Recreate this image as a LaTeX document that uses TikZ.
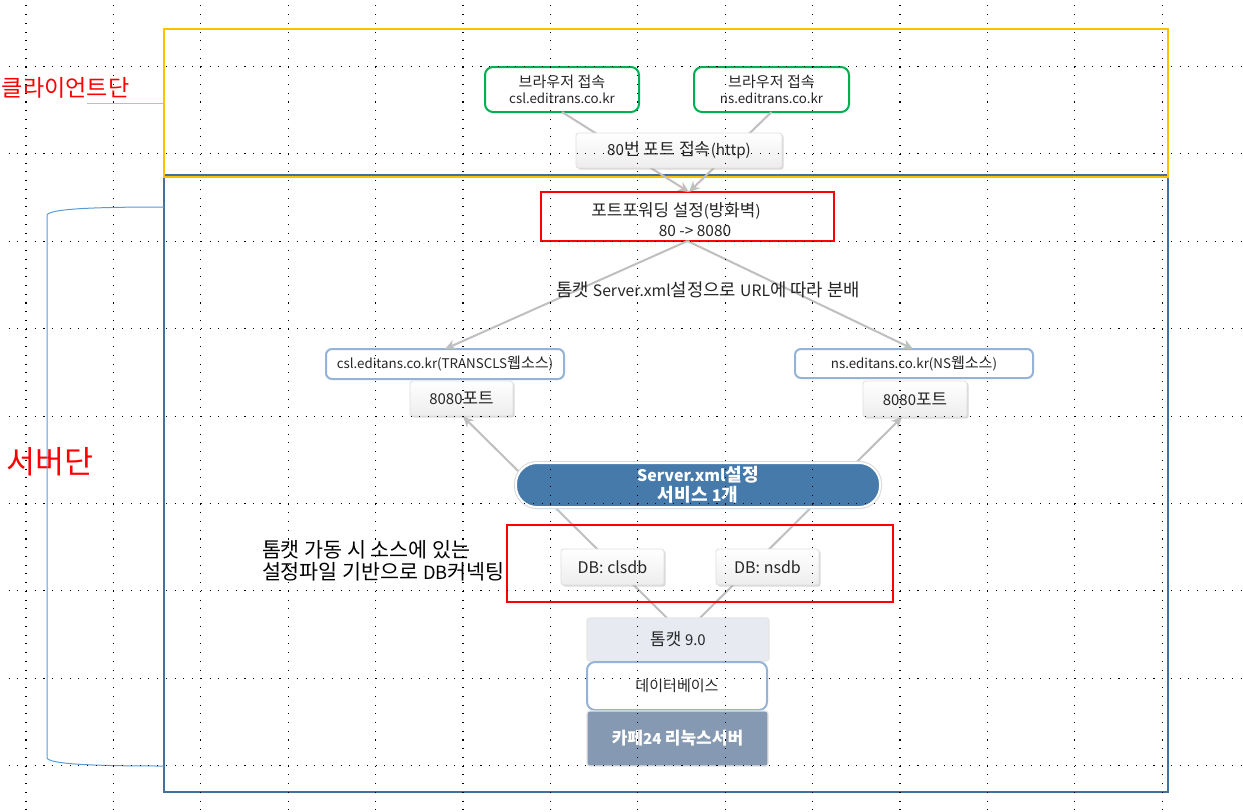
\documentclass[tikz,border=0pt]{standalone}
\usepackage{fontspec}
\setmainfont{Noto Sans CJK KR}
\newfontfamily\hangulfont{Noto Sans CJK KR}[Scale=1.13]
\newfontfamily\latinfont{Noto Sans CJK KR}
\XeTeXinterchartokenstate=1
\newXeTeXintercharclass\HangulCls
\newcount\hgc
\hgc="AC00
\loop\ifnum\hgc<"D7A4 \XeTeXcharclass\hgc=\HangulCls \advance\hgc by 1 \repeat
\XeTeXinterchartoks 0 \HangulCls = {\hangulfont}
\XeTeXinterchartoks 4095 \HangulCls = {\hangulfont}
\XeTeXinterchartoks \HangulCls 0 = {\latinfont}
\XeTeXinterchartoks 4095 0 = {\latinfont}
\usetikzlibrary{arrows.meta,calc,shadows}
\definecolor{ygold}{RGB}{255,192,0}
\definecolor{sblue}{RGB}{65,113,156}
\definecolor{ggreen}{RGB}{0,176,80}
\definecolor{cgray}{RGB}{191,191,191}
\definecolor{capblue}{RGB}{70,122,170}
\definecolor{cafe}{RGB}{134,153,178}
\definecolor{tomc}{RGB}{231,235,241}
\definecolor{webb}{RGB}{149,179,215}
\definecolor{brk}{RGB}{91,155,213}
\newcommand\pxl[1]{#1*0.75pt}
\newcommand\fs[1]{\fontsize{#1}{14}\selectfont}
\begin{document}
\begin{tikzpicture}[x=0.75pt,y=-0.75pt,
  every node/.style={inner sep=0pt, outer sep=0pt, font=\fontsize{10}{12}\selectfont, align=center, text=black!85},
  conn/.style={draw=cgray, line width=1.5pt},
  arr/.style={conn, -{Stealth[length=8pt,width=7.5pt]}},
  greenbox/.style={draw=ggreen, line width=1.5pt, rounded corners=6pt, fill=white},
  webbox/.style={draw=webb, line width=1.5pt, rounded corners=4.5pt, fill=white},
  softbox/.style={draw=gray!25, line width=0.6pt, rounded corners=2pt, top color=white, bottom color=gray!14,
     drop shadow={shadow xshift=1.2pt, shadow yshift=-1.2pt, opacity=0.3, fill=gray}},
  redbox/.style={draw=red, line width=1.5pt, fill=white},
  griddot/.style={draw=black, line width=0.8pt, dash pattern=on 0.8pt off 5.755pt},
]
\useasboundingbox (0,0) rectangle (1243,811);
\fill[white] (0,0) rectangle (1243,811);

% containers
\node[draw=sblue, line width=1.5pt, minimum width=\pxl{1004}, minimum height=\pxl{617}] (server) at (666,483.5) {};
\node[draw=ygold, line width=1.5pt, minimum width=\pxl{1004}, minimum height=\pxl{148}] (client) at (666,103) {};

% side labels
\node[anchor=west, text=red, font=\fontsize{15.3}{18}\selectfont] (clientlbl) at (2,88) {클라이언트단};
\coordinate (clu) at (87,103);
\draw[ygold, line width=0.75pt] (clu) -- (client.west |- clu);
\node[anchor=west, text=red, font=\fontsize{20.9}{24}\selectfont] (serverlbl) at (7,462) {서버단};
\coordinate (bt) at (164,207);
\coordinate (bb) at (164,766);
\draw[brk, line width=0.75pt] (bt) .. controls (90,207) and (50,209) .. (47,215) -- (47,758) .. controls (50,764) and (90,766) .. (bb);

% boxes that connectors attach to
\node[greenbox, minimum width=\pxl{154}, minimum height=\pxl{45}] (g1) at (562,89.5) {브라우저 접속\\csl.editrans.co.kr};
\node[greenbox, minimum width=\pxl{155}, minimum height=\pxl{45}] (g2) at (771.5,89.5) {브라우저 접속\\ns.editrans.co.kr};
\node[redbox, minimum width=\pxl{293}, minimum height=\pxl{49}] (fw) at (687.5,216.5) {};
\node[webbox, minimum width=\pxl{238}, minimum height=\pxl{30}] (cslweb) at (445,364) {csl.editans.co.kr(TRANSCLS웹소스)};
\node[webbox, minimum width=\pxl{238}, minimum height=\pxl{29}] (nsweb) at (914,363.5) {ns.editans.co.kr(NS웹소스)};
\node[minimum width=\pxl{182}, minimum height=\pxl{43}] (tomcatpos) at (678,639.5) {};
\coordinate (p8L) at (463,416.5);
\coordinate (p8R) at (902,417);

% connectors (under the boxes that they pass behind)
\draw[arr] (g1.south) -- ($(fw.north)+(1.5,0)$);
\draw[arr] (g2.south) -- ($(fw.north)+(1.5,0)$);
\draw[arr] (fw.south) -- (cslweb.north);
\draw[arr] (fw.south) -- ($(nsweb.north)+(-1,0)$);
\draw[arr] ($(tomcatpos.north)+(-11,0)$) -- (p8L);
\draw[arr] ($(tomcatpos.north)+(22,0)$) -- (p8R);

% boxes over connectors
\node[softbox, minimum width=\pxl{206}, minimum height=\pxl{35}, font=\fs{11.4}] (http) at (679,150.5) {80번 포트 접속(http)};
\node[font=\fs{11.2}] (fwt1) at (676,211) {포트포워딩 설정(방화벽)};
\node[font=\fs{11.6}] (fwt2) at (695,231) {80 -> 8080};
\node[font=\fs{11.8}] (lbl) at (708,290) {톰캣 Server.xml설정으로 URL에 따라 분배};
\node[softbox, minimum width=\pxl{103}, minimum height=\pxl{35}, font=\fs{11.2}] (p8080L) at (461.5,398.5) {8080포트};
\node[softbox, minimum width=\pxl{104}, minimum height=\pxl{36}, font=\fs{11.2}] (p8080R) at (915,399) {8080포트};

\node[fill=capblue, draw=white, line width=1.5pt, rounded corners=\pxl{21},
      preaction={draw=gray!30, line width=3pt, rounded corners=\pxl{21}},
      minimum width=\pxl{364}, minimum height=\pxl{44}, text=white,
      font=\fontsize{12}{15}\bfseries] (cap) at (698,485) {Server.xml설정\\서비스 1개};

\node[draw=red, line width=1.5pt, minimum width=\pxl{386}, minimum height=\pxl{77}] (dbzone) at (700,563.5) {};
\node[anchor=west, align=left, text=black, font=\fontsize{13.7}{16.5}\selectfont] (dbnote) at (262,561) {톰캣 가동 시 소스에 있는\\설정파일 기반으로 DB커넥팅};
\node[softbox, minimum width=\pxl{103}, minimum height=\pxl{36}, font=\fs{12}] (clsdb) at (612.5,567) {DB: clsdb};
\node[softbox, minimum width=\pxl{103}, minimum height=\pxl{36}, font=\fs{12}] (nsdb) at (767.5,567) {DB: nsdb};

\node[fill=tomc, draw=gray!20, line width=0.8pt, rounded corners=2pt, minimum width=\pxl{182}, minimum height=\pxl{43}, font=\fs{11.2}] (tomcat) at (678,639.5) {톰캣 9.0};
\node[webbox, rounded corners=6pt, minimum width=\pxl{180}, minimum height=\pxl{48}] (database) at (677,686) {데이터베이스};
\node[fill=cafe, draw=gray!20, line width=0.8pt, rounded corners=2pt, minimum width=\pxl{181}, minimum height=\pxl{55}, text=white, font=\fontsize{11.3}{13}\bfseries] (cafe24) at (677.5,738.5) {카페24 리눅스서버};

% dotted grid on top
\foreach \k in {0,...,8} \draw[griddot] (8.5,66.5+87.4*\k) -- (1243,66.5+87.4*\k);
\foreach \k in {0,...,13} \draw[griddot] (26+87.4*\k,5.3) -- (26+87.4*\k,811);
\end{tikzpicture}
\end{document}
